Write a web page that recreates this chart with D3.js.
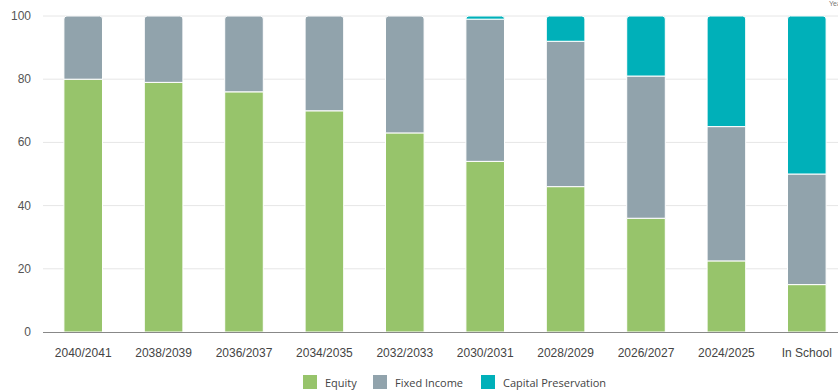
<!DOCTYPE html>
<html><head><meta charset="utf-8">
<script src="https://cdn.jsdelivr.net/npm/d3@7"></script>
<style>body{margin:0;background:#fff;} svg{display:block;}</style>
</head><body>
<svg id="c" width="838" height="391"></svg>
<script>
const categories = ["2040/2041","2038/2039","2036/2037","2034/2035","2032/2033","2030/2031","2028/2029","2026/2027","2024/2025","In School"];
const equity = [80,79,76,70,63,54,46,36,22.5,15];
const fixedIncome = [20,21,24,30,37,45,46,45,42.5,35];
const capitalPreservation = [0,0,0,0,0,1,8,19,35,50];
const seriesNames = ["Equity","Fixed Income","Capital Preservation"];
const colors = ["#97c46b","#91a3ac","#00b0b9"];
const yTicks = [0,20,40,60,80,100];

const svg = d3.select("#c");
const m = {l:43, r:847, t:16, b:332};
const x = d3.scaleBand().domain(categories).range([m.l, m.r]).paddingInner(0.52).paddingOuter(0.26);
const y = d3.scaleLinear().domain([0,100]).range([m.b, m.t]);

// grid
svg.append("g").selectAll("line").data(yTicks.filter(d=>d>0)).join("line")
  .attr("x1", m.l).attr("x2", 838).attr("y1", d=>y(d)).attr("y2", d=>y(d))
  .attr("stroke", "#e6e6e6").attr("stroke-width", 1);

const table = categories.map((c,i)=>({cat:c, Equity:equity[i], "Fixed Income":fixedIncome[i], "Capital Preservation":capitalPreservation[i]}));
const stack = d3.stack().keys(seriesNames)(table);

function topRounded(x0, y0, w, h, r){
  r = Math.min(r, h, w/2);
  return `M${x0},${y0+h}V${y0+r}Q${x0},${y0} ${x0+r},${y0}H${x0+w-r}Q${x0+w},${y0} ${x0+w},${y0+r}V${y0+h}Z`;
}

stack.forEach((s, si)=>{
  svg.append("g").selectAll("path").data(s.filter(d=>d[1]-d[0]>0)).join("path")
    .attr("d", d=>{
      const x0 = x(d.data.cat), w = x.bandwidth();
      const y0 = y(d[1]), h = y(d[0]) - y(d[1]);
      const isTop = Math.abs(d[1]-100) < 0.01;
      return isTop ? topRounded(x0, y0, w, h, 3) : `M${x0},${y0}h${w}v${h}h${-w}Z`;
    })
    .attr("fill", colors[si]).attr("stroke", "#fff").attr("stroke-width", 1);
});

// x axis line
svg.append("line").attr("x1", m.l).attr("x2", 838).attr("y1", m.b+0.5).attr("y2", m.b+0.5)
  .attr("stroke", "#888").attr("stroke-width", 1);

// y tick labels
svg.append("g").selectAll("text").data(yTicks).join("text")
  .attr("x", 31).attr("y", d=>y(d)+4).attr("text-anchor","end")
  .attr("font-family","Liberation Sans, Arial, sans-serif").attr("font-size", 12).attr("fill","#555")
  .text(d=>d);

// x labels
svg.append("g").selectAll("text").data(categories).join("text")
  .attr("x", d=>x(d)+x.bandwidth()/2).attr("y", 357).attr("text-anchor","middle")
  .attr("font-family","Liberation Sans, Arial, sans-serif").attr("font-size", 12).attr("fill","#444")
  .text(d=>d);

// clipped axis title at top right
svg.append("text").attr("x", 829).attr("y", 6).attr("font-family","Liberation Sans, Arial, sans-serif")
  .attr("font-size", 7).attr("fill","#777").text("Year");

// legend
const legX = [303, 373, 481];
const lg = svg.append("g").selectAll("g").data(seriesNames).join("g")
  .attr("transform", (d,i)=>`translate(${legX[i]},375)`);
lg.append("rect").attr("width", 14).attr("height", 14).attr("fill", (d,i)=>colors[i]);
lg.append("text").attr("x", 22).attr("y", 11.5).attr("font-family","Open Sans, sans-serif")
  .attr("font-size", 11).attr("fill","#444").text(d=>d);
</script>
</body></html>
